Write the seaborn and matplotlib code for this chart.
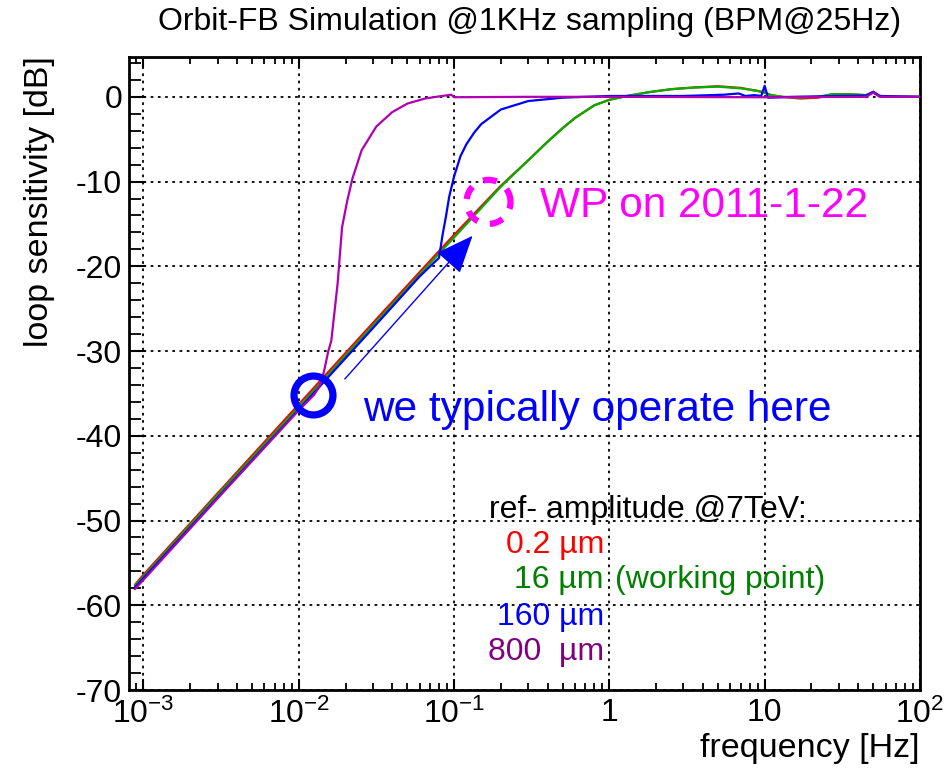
import numpy as np
import pandas as pd
import matplotlib
matplotlib.use("Agg")
import matplotlib.pyplot as plt
import matplotlib.ticker as mticker
import seaborn as sns

# ---------------- data ----------------
red_f = [0.00088, 0.001, 0.003, 0.01, 0.03, 0.08, 0.1, 0.15, 0.2, 0.3, 0.4, 0.5, 0.6, 0.8,
         1.0, 1.3, 1.8, 2.5, 3.5, 5.0, 7.0, 9.0, 10.0, 11.0, 13.0, 17.0, 22.0, 27.0, 35.0,
         45.0, 50.0, 55.0, 70.0, 100.0]
red_db = [-57.6, -56.4, -46.8, -36.3, -26.7, -18.2, -16.3, -12.9, -10.5, -7.5, -5.3, -3.7,
          -2.5, -1.0, -0.35, 0.1, 0.55, 0.9, 1.1, 1.25, 1.05, 0.7, 0.5, 0.2, 0.0, -0.2, -0.1,
          0.3, 0.3, 0.2, 0.55, 0.1, 0.0, 0.0]

green_f = [0.00088, 0.001, 0.003, 0.01, 0.03, 0.08, 0.1, 0.15, 0.2, 0.3, 0.4, 0.5, 0.6, 0.8,
           1.0, 1.3, 1.8, 2.5, 3.5, 5.0, 7.0, 9.0, 10.0, 11.0, 13.0, 17.0, 22.0, 27.0, 35.0,
           45.0, 50.0, 55.0, 70.0, 100.0]
green_db = [-57.7, -56.6, -47.0, -36.6, -27.0, -18.5, -16.6, -13.1, -10.6, -7.5, -5.3, -3.7,
            -2.5, -1.0, -0.35, 0.1, 0.55, 0.9, 1.1, 1.2, 1.0, 0.7, 0.5, 0.2, 0.0, -0.1, 0.0,
            0.3, 0.3, 0.2, 0.55, 0.1, 0.0, 0.0]

blue_f = [0.00088, 0.001, 0.003, 0.01, 0.03, 0.06, 0.08, 0.0843, 0.0887, 0.093, 0.1, 0.11,
          0.12, 0.135, 0.15, 0.2, 0.3, 0.5, 1.0, 3.0, 5.5, 6.8, 7.5, 8.6, 9.5, 10.0, 10.5,
          15.0, 30.0, 45.0, 50.0, 55.0, 100.0]
blue_db = [-57.9, -56.8, -47.3, -36.9, -27.3, -21.2, -19.0, -16.3, -14.1, -11.8, -9.4, -7.0,
           -5.6, -4.2, -3.2, -1.5, -0.5, -0.1, 0.1, 0.1, 0.25, 0.4, 0.1, 0.2, 0.1, 1.3, -0.1,
           0.0, 0.1, 0.15, 0.6, 0.1, 0.0]

purple_f = [0.00088, 0.001, 0.003, 0.01, 0.0125, 0.0136, 0.0145, 0.0155, 0.0162, 0.0178,
            0.019, 0.0205, 0.0222, 0.0254, 0.0316, 0.04, 0.05, 0.065, 0.08, 0.096, 0.1, 0.3,
            1.0, 10.0, 45.0, 50.0, 55.0, 100.0]
purple_db = [-58.1, -57.0, -47.4, -37.0, -35.2, -34.2, -32.5, -30.0, -28.8, -22.0, -15.4,
             -12.3, -9.6, -6.3, -3.5, -1.8, -0.8, -0.2, 0.05, 0.25, -0.05, 0.0, 0.0, -0.05,
             0.0, 0.5, 0.0, 0.0]

series_names = ["0.2 µm", "16 µm", "160 µm", "800  µm"]
line_colors = ["#ff0000", "#00b000", "#0000ff", "#b000b0"]
text_colors = ["#ff0000", "#008000", "#0000ff", "#800080"]

x_ticks = [1e-3, 1e-2, 1e-1, 1, 10, 100]
x_tick_labels = [r"$10^{\mathregular{-3}}$", r"$10^{\mathregular{-2}}$",
                 r"$10^{\mathregular{-1}}$", "1", "10", r"$10^{2}$"]
y_ticks = [0, -10, -20, -30, -40, -50, -60, -70]

# annotation anchors (data coordinates)
op_point = (0.0123, -35.2)
wp_point = (0.1667, -12.4)
arrow_start = (0.0198, -33.3)
arrow_end = (0.1315, -16.4)

# ---------------- style ----------------
sns.set_theme(style="white")
plt.rcParams["font.family"] = ["Liberation Sans", "DejaVu Sans"]
plt.rcParams["mathtext.fontset"] = "custom"
plt.rcParams["mathtext.rm"] = "Liberation Sans"
plt.rcParams["mathtext.it"] = "Liberation Sans:italic"
plt.rcParams["mathtext.bf"] = "Liberation Sans:bold"
plt.rcParams["axes.unicode_minus"] = False
plt.rcParams["text.color"] = "black"
plt.rcParams["xtick.color"] = "black"
plt.rcParams["ytick.color"] = "black"
plt.rcParams["xtick.labelcolor"] = "black"
plt.rcParams["ytick.labelcolor"] = "black"
plt.rcParams["axes.labelcolor"] = "black"

fig = plt.figure(figsize=(9.51, 7.72), dpi=100)
ax = fig.add_axes([129 / 951, 1 - 690 / 772, (920 - 129) / 951, (690 - 57) / 772])

frames = []
for name, f, db in zip(series_names, [red_f, green_f, blue_f, purple_f],
                       [red_db, green_db, blue_db, purple_db]):
    frames.append(pd.DataFrame({"freq": f, "dB": db, "series": name}))
df = pd.concat(frames, ignore_index=True)

for name, col in zip(series_names, line_colors):
    sns.lineplot(data=df[df["series"] == name], x="freq", y="dB", color=col,
                 linewidth=1.6, ax=ax, estimator=None, sort=True, zorder=3)

ax.set_xscale("log")
ax.set_xlim(10 ** -3.093, 100)
ax.set_ylim(-70, 4.7)
ax.set_xlabel("")
ax.set_ylabel("")

ax.set_xticks(x_ticks)
ax.set_xticklabels(x_tick_labels)
ax.xaxis.set_minor_locator(mticker.LogLocator(base=10, subs=np.arange(2, 10)))
ax.xaxis.set_minor_formatter(mticker.NullFormatter())
ax.set_yticks(y_ticks)
ax.yaxis.set_minor_locator(mticker.MultipleLocator(2))

ax.tick_params(axis="x", which="major", direction="in", length=8, width=1.5,
               top=True, bottom=True, labelsize=23, pad=6, color="black",
               labelcolor="black")
ax.tick_params(axis="x", which="minor", direction="in", length=5, width=1.3,
               top=True, bottom=True, color="black")
ax.tick_params(axis="y", which="major", direction="in", length=12, width=1.5,
               left=True, right=False, labelsize=23, pad=5, color="black",
               labelcolor="black")
ax.tick_params(axis="y", which="minor", direction="in", length=8.5, width=1.3,
               left=True, right=False, color="black")

for sp in ax.spines.values():
    sp.set_visible(True)
    sp.set_color("black")
    sp.set_linewidth(2)

ax.grid(True, which="major", color="black", linestyle=(0, (1.5, 2.5)), linewidth=1.3)
ax.set_axisbelow(True)

# ---------------- annotations ----------------
ax.plot([op_point[0]], [op_point[1]], marker="o", markersize=28, markerfacecolor="none",
        markeredgecolor="#0000ff", markeredgewidth=5.2, zorder=5)

ax.annotate("", xy=arrow_end, xytext=arrow_start,
            arrowprops=dict(arrowstyle="-|>,head_length=1.2,head_width=0.5",
                            mutation_scale=20, color="#0000ff", lw=1.0,
                            shrinkA=0, shrinkB=0), zorder=5)

# dashed circle around the working point (radius ~22 px)
t = np.linspace(0, 2 * np.pi, 200)
r_dec = 22 / 155.3
r_db = 22 / 8.47
ax.plot(10 ** (np.log10(wp_point[0]) + r_dec * np.cos(t)), wp_point[1] + r_db * np.sin(t),
        color="#ff00ff", linewidth=4.5, linestyle=(0, (2.2, 2.0)), zorder=5)

ax.text(0.0258, -38.3, "we typically operate here", color="#0000ff", fontsize=30.5,
        ha="left", va="baseline", zorder=6)
ax.text(0.357, -14.2, "WP on 2011-1-22", color="#ff00ff", fontsize=30.5,
        ha="left", va="baseline", zorder=6)

# legend-like texts
def px(xpix, ypix):
    return xpix / 951, 1 - ypix / 772

fig.text(*px(489, 518), "ref- amplitude @7TeV:", color="black", fontsize=23,
         ha="left", va="baseline")
legend_baselines = [553, 588, 625, 660]
for name, col, yb in zip(series_names, text_colors, legend_baselines):
    fig.text(*px(604, yb), name, color=col, fontsize=23, ha="right", va="baseline")
fig.text(*px(615, 588), "(working point)", color=text_colors[1], fontsize=23,
         ha="left", va="baseline")

# titles
fig.text(*px(530, 22), "Orbit-FB Simulation @1KHz sampling (BPM@25Hz)", fontsize=23,
         ha="center", va="center", color="black")
fig.text(*px(40, 56), "loop sensitivity [dB]", fontsize=24.5, rotation=90,
         ha="center", va="top", color="black")
fig.text(*px(920, 748), "frequency [Hz]", fontsize=24.5, ha="right", va="center",
         color="black")

fig.savefig("out.png", dpi=100)
